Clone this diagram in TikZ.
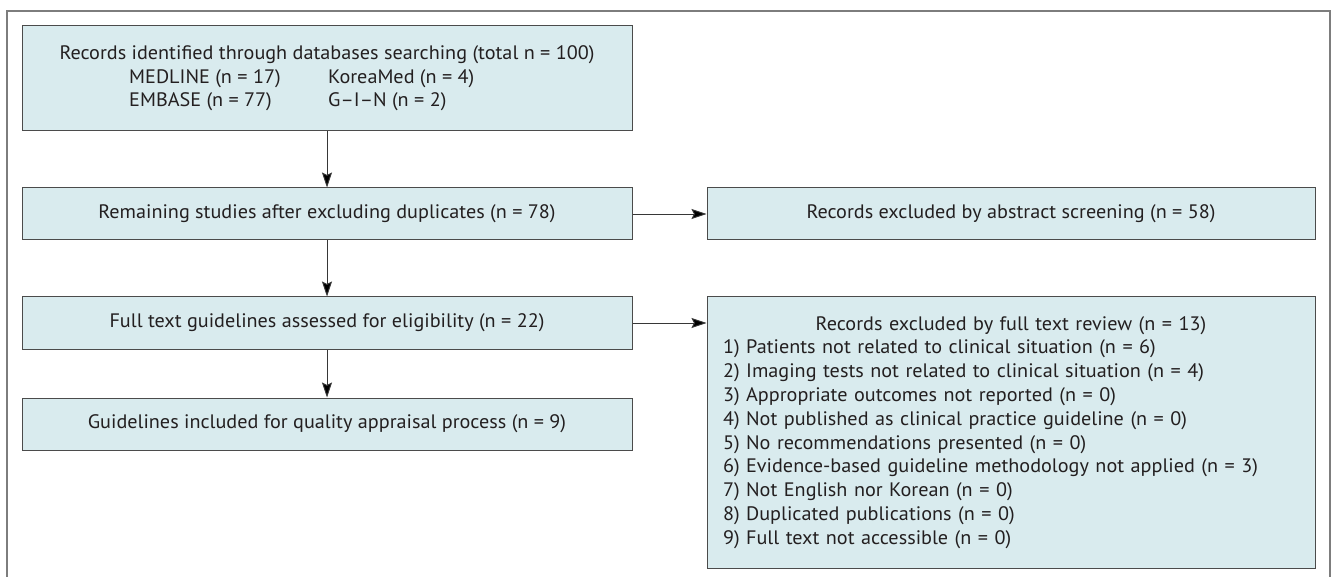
\documentclass[tikz,border=0pt]{standalone}
\usepackage{fontspec}
\setmainfont{PT Sans}
\newfontfamily\measfont{PT Sans}
\newlength\reflen
\settowidth\reflen{\measfont\fontsize{20pt}{24pt}\selectfont Records identified through databases searching (total n = 100)}
\pgfmathsetmacro\stretchval{535/(\reflen*19.5/20)}
\edef\tmpfontdef{\noexpand\newfontfamily\noexpand\reffont[FakeStretch=\stretchval]{PT Sans}}
\tmpfontdef
\usetikzlibrary{arrows.meta}
\definecolor{boxfill}{RGB}{217,235,238}
\definecolor{boxline}{RGB}{75,75,75}
\definecolor{frameline}{RGB}{125,125,125}
\definecolor{txt}{RGB}{35,31,32}
\definecolor{arrline}{RGB}{55,55,55}
\begin{document}
\begin{tikzpicture}[x=1pt,y=-1pt,
  flowbox/.style={draw=boxline, line width=1pt, fill=boxfill, inner sep=0pt},
  label/.style={inner sep=0pt, text=txt, font=\reffont\fontsize{19.5pt}{23.8pt}\selectfont},
  arr/.style={draw=arrline, line width=0.9pt, -{Stealth[length=15pt,width=10pt,inset=2.5pt,fill=black]}}]
\useasboundingbox (0,0) rectangle (1333,577);
\draw[frameline, line width=1.6pt] (7,577) -- (7,11) -- (1330,11) -- (1330,577);

% left column
\node[flowbox, minimum width=610pt, minimum height=105pt] (box1) at (327,78.5) {};
\node[label] (b1title) at (327,55) {Records identified through databases searching (total n = 100)};
\node[label, anchor=west] (b1med) at (129,78.5) {MEDLINE (n = 17)};
\node[label, anchor=west] (b1kor) at (328,78.5) {KoreaMed (n = 4)};
\node[label, anchor=west] (b1emb) at (129,102) {EMBASE (n = 77)};
\node[label, anchor=west] (b1gin) at (328,102) {G–I–N (n = 2)};

\node[flowbox, minimum width=610pt, minimum height=52pt] (box2) at (327,214) {};
\node[label] (b2t) at (box2) {Remaining studies after excluding duplicates (n = 78)};

\node[flowbox, minimum width=610pt, minimum height=52pt] (box3) at (327,323) {};
\node[label] (b3t) at (box3) {Full text guidelines assessed for eligibility (n = 22)};

\node[flowbox, minimum width=610pt, minimum height=52pt] (box4) at (327,424) {};
\node[label] (b4t) at (box4) {Guidelines included for quality appraisal process (n = 9)};

% right column
\node[flowbox, minimum width=608pt, minimum height=52pt] (exA) at (1011,214) {};
\node[label] (exAt) at (exA) {Records excluded by abstract screening (n = 58)};

\node[flowbox, minimum width=608pt, minimum height=271pt] (exB) at (1011,432.5) {};
\node[label, text width=576pt, align=left] (exBt) at (exB) {%
\makebox[\linewidth][c]{Records excluded by full text review (n = 13)}\\
1) Patients not related to clinical situation (n = 6)\\
2) Imaging tests not related to clinical situation (n = 4)\\
3) Appropriate outcomes not reported (n = 0)\\
4) Not published as clinical practice guideline (n = 0)\\
5) No recommendations presented (n = 0)\\
6) Evidence-based guideline methodology not applied (n = 3)\\
7) Not English nor Korean (n = 0)\\
8) Duplicated publications (n = 0)\\
9) Full text not accessible (n = 0)};

% connectors
\draw[arr] (box1) -- (box2);
\draw[arr] (box2) -- (box3);
\draw[arr] (box3) -- (box4);
\draw[arr] (box2) -- (exA);
\draw[arr] (box3.east) -- (box3.east -| exB.west);
\end{tikzpicture}
\end{document}
